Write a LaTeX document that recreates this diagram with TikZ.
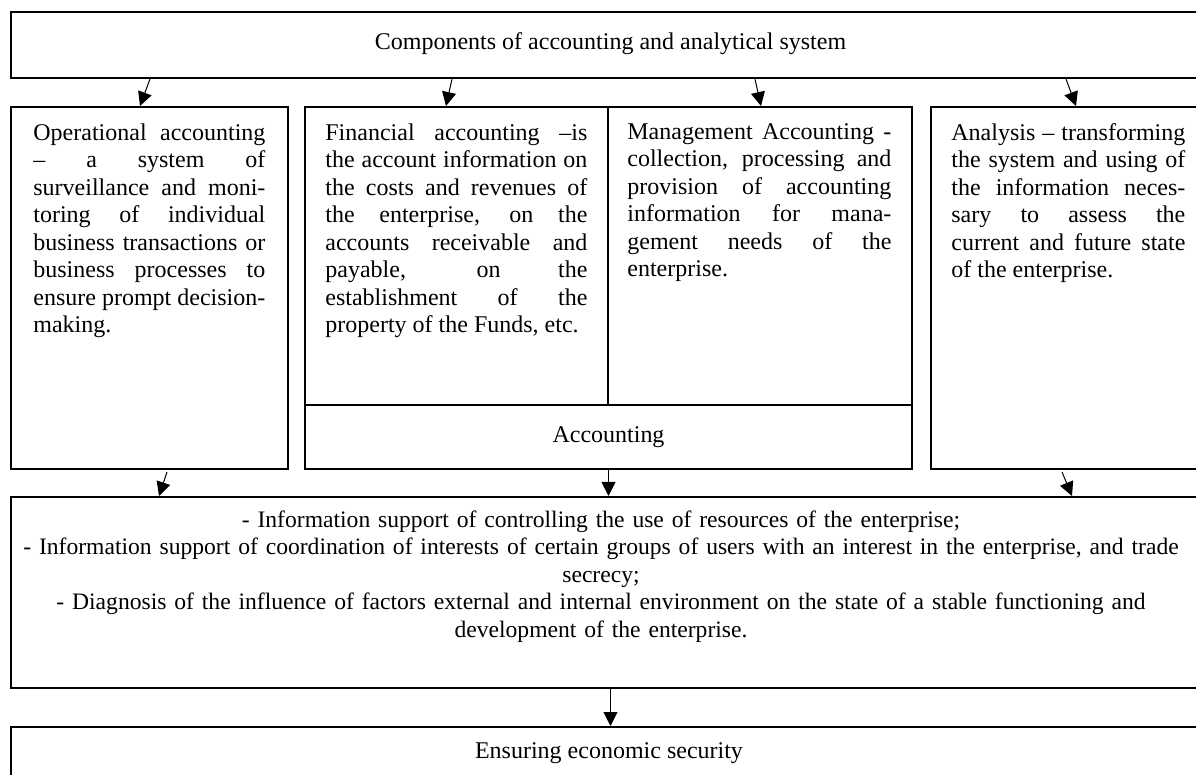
\documentclass[tikz,border=0pt]{standalone}
\usepackage{fontspec}
\setmainfont{Liberation Serif}
\usetikzlibrary{arrows.meta, fit, calc}
\tikzstyle{block} = [rectangle, draw=black, line width=1pt, inner sep=0pt]
\tikzstyle{para} = [inner sep=0pt, anchor=north west, align=justify, font=\fontsize{12}{13.75}\selectfont\sloppy]
\tikzstyle{plain} = [inner sep=0pt, align=center, font=\fontsize{12}{13.75}\selectfont]
\tikzstyle{arrow} = [line width=0.5pt, -{Triangle[length=7pt, width=7pt]}]

\begin{document}
\begin{tikzpicture}[x=0.5pt, y=-0.5pt, every node/.append style={plain}]
\clip (0,0) rectangle (1196,775);
\node (comp) [block, fit={(11,12) (1210,78)}] {};
\node (opAcc) [block, fit={(11,107) (288,469)}] {};
\node (finAcc) [block, fit={(305,107) (608,405)}] {};
\node (mgmtAcc) [block, fit={(608,107) (912,405)}] {};
\node (accounting) [block, fit={(305,405) (912,469)}] {};
\node (analysis) [block, fit={(931,107) (1210,469)}] {};
\node (tasks) [block, fit={(11,497) (1210,688)}] {};
\node (security) [block, fit={(11,727) (1210,790)}] {};
\node (compText) at ($(comp.center)+(0,-1)$) {Components of accounting and analytical system};
\node (acctText) at (accounting.center) {Accounting};
% texts of the four components
\node (opText) [para, text width=116pt] at ($(opAcc.north west)+(23,17)$)
  {Operational accounting\linebreak – a system of\linebreak surveillance and moni-\linebreak toring of individual\linebreak business transactions or\linebreak business processes to\linebreak ensure prompt decision-\linebreak making.};
\node (finText) [para, text width=131pt] at ($(finAcc.north west)+(21,17)$)
  {Financial accounting –is\linebreak the account information on\linebreak the costs and revenues of\linebreak the enterprise, on the\linebreak accounts receivable and\linebreak payable, on the\linebreak establishment of the\linebreak property of the Funds, etc.};
\node (mgmtText) [para, text width=132pt] at ($(mgmtAcc.north west)+(20,17)$)
  {Management Accounting -\linebreak collection, processing and\linebreak provision of accounting\linebreak information for mana-\linebreak gement needs of the\linebreak enterprise.};
\node (anText) [para, text width=117pt] at ($(analysis.north west)+(21,17)$)
  {Analysis – transforming\linebreak the system and using of\linebreak the information neces-\linebreak sary to assess the\linebreak current and future state\linebreak of the enterprise.};
\node (tasksText) [plain, anchor=north, text width=595pt, font=\fontsize{11.8}{13.75}\selectfont] at ($(tasks.north west)+(591,14)$)
  {- Information support of controlling the use of resources of the enterprise;\\
   - Information support of coordination of interests of certain groups of users with an interest in the enterprise, and trade\\
   secrecy;\\
   - Diagnosis of the influence of factors external and internal environment on the state of a stable functioning and\\
   development of the enterprise.};
\node (secText) at ($(security.north west)+(599,27)$) {Ensuring economic security};
% connectors
\draw [arrow] ($(comp.south west)+(140,0)$) -- ($(opAcc.north west)+(130,0)$);
\draw [arrow] ($(comp.south west)+(442,0)$) -- ($(finAcc.north west)+(142,0)$);
\draw [arrow] ($(comp.south west)+(745,0)$) -- ($(mgmtAcc.north west)+(154,0)$);
\draw [arrow] ($(comp.south west)+(1056,0)$) -- ($(analysis.north west)+(146,0)$);
\draw [arrow] ($(opAcc.south west)+(157,2)$) -- ($(tasks.north west)+(149,0)$);
\draw [arrow] (accounting.south) -- (accounting.south |- tasks.north);
\draw [arrow] ($(analysis.south west)+(132,2)$) -- ($(tasks.north west)+(1062,0)$);
\draw [arrow] (tasks.south) -- (security.north);
\end{tikzpicture}
\end{document}
